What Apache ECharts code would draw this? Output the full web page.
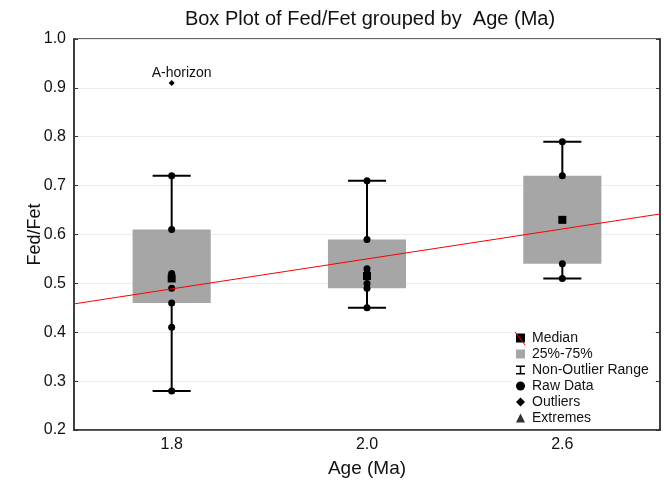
<!DOCTYPE html>
<html>
<head>
<meta charset="utf-8">
<script src="https://cdn.jsdelivr.net/npm/echarts@6/dist/echarts.min.js"></script>
<style>html,body{margin:0;padding:0;background:#fff;}#c{width:664px;height:486px;}</style>
</head>
<body>
<div id="c"></div>
<script>
const categories = ['1.8', '2.0', '2.6'];
const lowWhisker = [0.28, 0.45, 0.51];
const q1 = [0.46, 0.49, 0.54];
const medians = [0.51, 0.515, 0.63];
const q3 = [0.61, 0.59, 0.72];
const highWhisker = [0.72, 0.71, 0.79];
const rawData = [
  [0.72, 0.61, 0.52, 0.515, 0.51, 0.49, 0.46, 0.41, 0.28],
  [0.71, 0.59, 0.53, 0.52, 0.50, 0.49, 0.45],
  [0.79, 0.72, 0.54, 0.51]
];
const outlierGroup = [0];
const outlierValues = [0.91];
const outlierLabels = ['A-horizon'];
const trendX = [-0.5, 2.5];
const trendY = [0.458, 0.642];

const FONT = '"Liberation Sans", Arial, sans-serif';
const chart = echarts.init(document.getElementById('c'), null, {renderer: 'canvas'});

const boxData = categories.map((c, i) => [i, q1[i], q3[i]]);
const whiskerData = categories.map((c, i) => [i, lowWhisker[i], q1[i], q3[i], highWhisker[i]]);
const medianData = categories.map((c, i) => [i, medians[i]]);
const rawPts = [];
rawData.forEach((arr, i) => arr.forEach(v => rawPts.push([i, v])));
const outPts = outlierGroup.map((g, k) => ({value: [g, outlierValues[k]], label: {show: true, formatter: outlierLabels[k]}}));
const trendData = trendX.map((x, k) => [x, trendY[k]]);

const option = {
  animation: false,
  backgroundColor: '#fff',
  title: {
    text: 'Box Plot of Fed/Fet grouped by  Age (Ma)',
    left: 365, top: 4, textAlign: 'center',
    textStyle: {fontFamily: FONT, fontSize: 20, fontWeight: 'normal', color: '#111'}
  },
  grid: {left: 74, right: 4, top: 39, bottom: 56, show: true, borderColor: '#333', borderWidth: 1.5, backgroundColor: 'transparent'},
  legend: {
    orient: 'vertical', left: 512, top: 327, selectedMode: false,
    backgroundColor: '#fff', padding: [4, 4, 4, 4],
    itemWidth: 9, itemHeight: 9, itemGap: 2,
    textStyle: {fontFamily: FONT, fontSize: 14, lineHeight: 14, color: '#111', padding: [0, 0, 0, 2]},
    data: [
      {name: 'Median', icon: 'rect'},
      {name: '25%-75%', icon: 'rect'},
      {name: 'Non-Outlier Range', icon: 'path://M0,0 H10 V1.6 H5.8 V8.4 H10 V10 H0 V8.4 H4.2 V1.6 H0 Z'},
      {name: 'Raw Data', icon: 'circle'},
      {name: 'Outliers', icon: 'diamond'},
      {name: 'Extremes', icon: 'triangle'}
    ]
  },
  graphic: [
    {type: 'line', z: 100, shape: {x1: 515, y1: 332, x2: 525, y2: 345}, style: {stroke: '#ff0000', lineWidth: 1}}
  ],
  xAxis: [
    {
      type: 'category', data: categories, boundaryGap: true,
      name: 'Age (Ma)', nameLocation: 'middle', nameGap: 29, nameMoveOverlap: false,
      nameTextStyle: {fontFamily: FONT, fontSize: 19, color: '#111'},
      axisLine: {onZero: false, lineStyle: {color: '#333', width: 1.5}},
      axisTick: {inside: true, alignWithLabel: true, length: 4, lineStyle: {color: '#333'}},
      axisLabel: {fontFamily: FONT, fontSize: 16, color: '#111', margin: 7},
      splitLine: {show: false}
    },
    {type: 'value', min: -0.5, max: 2.5, show: false, axisLine: {onZero: false}}
  ],
  yAxis: [
    {
      type: 'value', min: 0.2, max: 1.0, interval: 0.1,
      name: 'Fed/Fet', nameLocation: 'middle', nameGap: 30, nameMoveOverlap: false,
      nameTextStyle: {fontFamily: FONT, fontSize: 18, color: '#111'},
      axisLine: {show: true, onZero: false, lineStyle: {color: '#333', width: 1.5}},
      axisTick: {show: true, inside: true, length: 4, lineStyle: {color: '#333'}},
      axisLabel: {fontFamily: FONT, fontSize: 16, color: '#111', margin: 8, formatter: v => v.toFixed(1)},
      splitLine: {show: true, lineStyle: {color: '#ececec', width: 1}}
    },
    {
      type: 'value', min: 0.2, max: 1.0, interval: 0.1, position: 'right',
      axisLine: {show: true, onZero: false, lineStyle: {color: '#333', width: 1.5}},
      axisTick: {show: true, inside: true, length: 4, lineStyle: {color: '#333'}},
      axisLabel: {show: false}, splitLine: {show: false}
    }
  ],
  series: [
    {
      name: '25%-75%', type: 'custom', xAxisIndex: 0, yAxisIndex: 0,
      itemStyle: {color: '#a6a6a6'},
      encode: {x: 0, y: [1, 2]},
      data: boxData, z: 2,
      renderItem: function (params, api) {
        const i = api.value(0);
        const lo = api.coord([i, api.value(1)]);
        const hi = api.coord([i, api.value(2)]);
        const bw = api.size([1, 0])[0] * 0.4;
        return {type: 'rect', shape: {x: lo[0] - bw / 2, y: hi[1], width: bw, height: lo[1] - hi[1]}, style: {fill: '#a6a6a6'}};
      }
    },
    {
      name: 'Non-Outlier Range', type: 'custom', xAxisIndex: 0, yAxisIndex: 0,
      itemStyle: {color: '#000'},
      encode: {x: 0, y: [1, 2, 3, 4]},
      data: whiskerData, z: 3,
      renderItem: function (params, api) {
        const i = api.value(0);
        const pLow = api.coord([i, api.value(1)]);
        const pQ1 = api.coord([i, api.value(2)]);
        const pQ3 = api.coord([i, api.value(3)]);
        const pHigh = api.coord([i, api.value(4)]);
        const cw = api.size([1, 0])[0] * 0.195;
        const st = {stroke: '#000', lineWidth: 2};
        return {type: 'group', children: [
          {type: 'line', shape: {x1: pLow[0], y1: pLow[1], x2: pQ1[0], y2: pQ1[1]}, style: st},
          {type: 'line', shape: {x1: pQ3[0], y1: pQ3[1], x2: pHigh[0], y2: pHigh[1]}, style: st},
          {type: 'line', shape: {x1: pLow[0] - cw / 2, y1: pLow[1], x2: pLow[0] + cw / 2, y2: pLow[1]}, style: st},
          {type: 'line', shape: {x1: pHigh[0] - cw / 2, y1: pHigh[1], x2: pHigh[0] + cw / 2, y2: pHigh[1]}, style: st}
        ]};
      }
    },
    {
      name: 'Raw Data', type: 'scatter', xAxisIndex: 0, yAxisIndex: 0,
      symbol: 'circle', symbolSize: 7, itemStyle: {color: '#000', opacity: 1},
      data: rawPts, z: 4
    },
    {
      name: 'Median', type: 'scatter', xAxisIndex: 0, yAxisIndex: 0,
      symbol: 'rect', symbolSize: 8, itemStyle: {color: '#000', opacity: 1},
      data: medianData, z: 5
    },
    {
      name: 'Outliers', type: 'scatter', xAxisIndex: 0, yAxisIndex: 0,
      symbol: 'diamond', symbolSize: 6, itemStyle: {color: '#000', opacity: 1},
      label: {position: 'top', distance: 0, offset: [10, 0], fontFamily: FONT, fontSize: 14, color: '#111'},
      data: outPts, z: 5
    },
    {
      name: 'Extremes', type: 'scatter', xAxisIndex: 0, yAxisIndex: 0,
      symbol: 'triangle', symbolSize: 7, itemStyle: {color: '#000'},
      data: []
    },
    {
      name: 'trend', type: 'line', xAxisIndex: 1, yAxisIndex: 0,
      data: trendData, symbol: 'none', silent: true,
      lineStyle: {color: '#ff0000', width: 1}, z: 6
    }
  ]
};
chart.setOption(option);
</script>
</body>
</html>
